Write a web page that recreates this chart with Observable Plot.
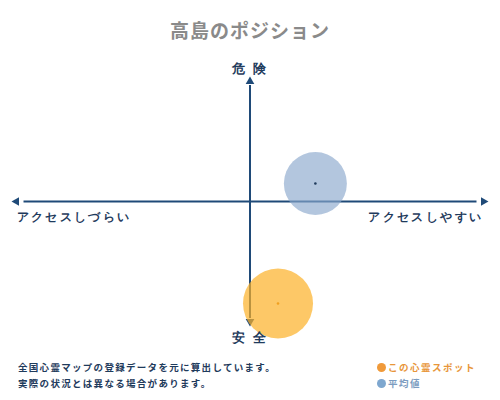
<!DOCTYPE html>
<html><head><meta charset="utf-8">
<script src="https://cdn.jsdelivr.net/npm/d3@7"></script>
<script src="https://cdn.jsdelivr.net/npm/@observablehq/plot@0.6"></script>
<style>
body{margin:0;width:500px;height:400px;background:#fff;font-family:"Noto Sans CJK JP",sans-serif;overflow:hidden}
#title{height:55px;position:relative}
#title div{position:absolute;left:0;right:0;top:16px;text-align:center;font-size:19px;color:#8a8a8a;letter-spacing:1px;font-weight:700}
#foot{position:relative;height:55px}
.note{position:absolute;left:18px;font-size:9.5px;color:#1f3b5c;letter-spacing:1.3px;font-weight:700}
.leg{position:absolute;left:377px;font-size:9.5px;letter-spacing:1.5px;font-weight:700}
.leg span.dot{display:inline-block;width:9px;height:9px;border-radius:50%;margin-right:2px;vertical-align:-1px}
</style></head>
<body>
<div id="title"><div>高島のポジション</div></div>
<div id="chart"></div>
<div id="foot"></div>
<script>
const titleText = "高島のポジション";
const axisLabels = {top:"危 険", bottom:"安 全", left:"アクセスしづらい", right:"アクセスしやすい"};
const seriesNames = ["この心霊スポット","平均値"];
const accessValues = [12, 28];   // x: access (-100 hard .. 100 easy)
const dangerValues = [-85, 15];  // y: danger (-100 safe .. 100 dangerous)
const seriesColors = ["#fcb027","#8aa8cc"];
const dotColors = ["#f0a020","#1f3b5c"];
const footnotes = ["全国心霊マップの登録データを元に算出しています。","実際の状況とは異なる場合があります。"];

const points = seriesNames.map((name,i)=>({name, x:accessValues[i], y:dangerValues[i], color:seriesColors[i], dot:dotColors[i]}));
const axisColor = "#1f4a78";
const ends = [
  {x:0,y:100,rot:0},{x:0,y:-100,rot:180},{x:-100,y:0,rot:-90},{x:100,y:0,rot:90}
];

const plot = Plot.plot({
  width:500, height:290,
  margin:0,
  x:{domain:[-100,100], range:[16,483], axis:null},
  y:{domain:[100,-100], range:[26,266], axis:null},
  marks:[
    Plot.link([{x1:0,y1:-97,x2:0,y2:97},{x1:-97,y1:0,x2:97,y2:0}],{x1:"x1",y1:"y1",x2:"x2",y2:"y2",stroke:axisColor,strokeWidth:2}),
    Plot.dot(ends,{x:"x",y:"y",symbol:"triangle",rotate:"rot",r:3.2,fill:axisColor,stroke:null}),
    Plot.dot([points[1]],{x:"x",y:"y",r:31.5,fill:seriesColors[1],fillOpacity:0.65,stroke:null}),
    Plot.dot([points[0]],{x:"x",y:"y",r:35,fill:seriesColors[0],fillOpacity:0.7,stroke:null}),
    Plot.dot(points,{x:"x",y:"y",r:1.3,fill:"dot",stroke:null}),
    Plot.text([axisLabels.top],{x:0,y:100,dy:-13,text:d=>d,fontSize:13,fontWeight:"bold",fill:"#1f3b5c"}),
    Plot.text([axisLabels.bottom],{x:0,y:-100,dy:16,text:d=>d,fontSize:13,fontWeight:"bold",fill:"#1f3b5c"}),
    Plot.text([axisLabels.left],{x:-100,y:0,dx:0,dy:16,textAnchor:"start",text:d=>d,fontSize:11.5,fontWeight:"bold",fill:"#1f3b5c"}),
    Plot.text([axisLabels.right],{x:100,y:0,dy:16,textAnchor:"end",text:d=>d,fontSize:11.5,fontWeight:"bold",fill:"#1f3b5c"})
  ]
});
d3.select(plot).selectAll("text").style("letter-spacing","2.4px");
document.getElementById("chart").appendChild(plot);

const foot = d3.select("#foot");
footnotes.forEach((t,i)=>foot.append("div").attr("class","note").style("top",(15+i*16)+"px").text(t));
const legColors = ["#e8963a","#7c9cc0"];
const legDots = ["#f09a3a","#7ea7cf"];
seriesNames.forEach((n,i)=>{
  const d = foot.append("div").attr("class","leg").style("top",(15+i*16)+"px").style("color",legColors[i]);
  d.append("span").attr("class","dot").style("background",legDots[i]);
  d.append("span").text(n);
});
</script>
</body></html>
